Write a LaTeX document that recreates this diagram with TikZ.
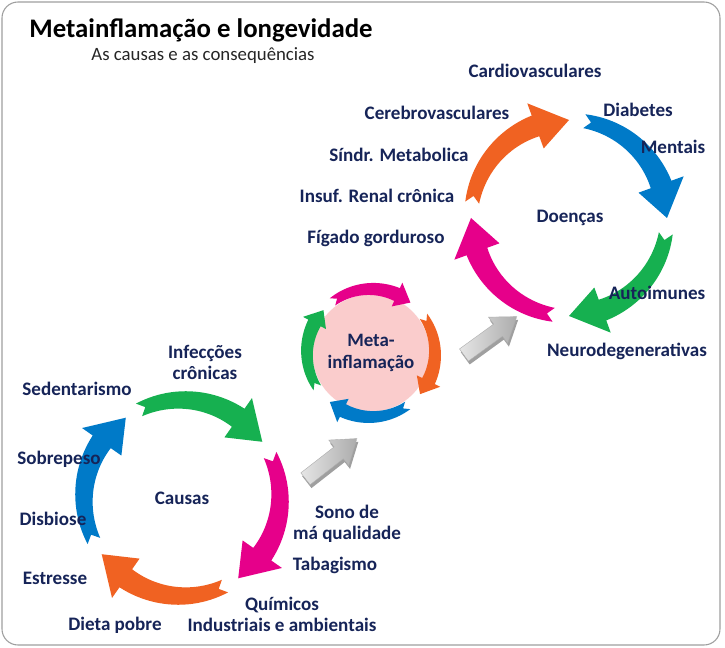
\documentclass[tikz,border=0pt]{standalone}
\usepackage{fontspec}
\setmainfont{Carlito}
\usetikzlibrary{shapes.arrows,shadows}

\definecolor{navy}{RGB}{22,36,88}
\definecolor{cgreen}{RGB}{22,176,80}
\definecolor{cmag}{RGB}{230,0,138}
\definecolor{corange}{RGB}{240,98,34}
\definecolor{cblue}{RGB}{0,122,200}
\definecolor{metapink}{RGB}{250,204,204}

% cycle settings: radius, tail half width, head side half width, head half width, span, head angle, notch
\newcommand\setcyc[7]{\def\rr{#1}\def\wt{#2}\def\wh{#3}\def\hw{#4}\def\spn{#5}\def\hang{#6}\def\ntc{#7}}
% curved clockwise arrow: #1 tip angle, #2 colour
\newcommand\cycarrow[2]{%
  \pgfmathsetmacro\ta{#1+\spn}%
  \pgfmathsetmacro\tb{#1+\hang}%
  \fill[#2] ({\ta}:{\rr+\wt})
    -- plot[domain=\ta:\tb, samples=25] (\x:{\rr+\wt+(\wh-\wt)*(\ta-\x)/(\ta-\tb)})
    -- ({\tb}:{\rr+\hw}) -- ({#1}:{\rr}) -- ({\tb}:{\rr-\hw})
    -- plot[domain=\tb:\ta, samples=25] (\x:{\rr-\wt-(\wh-\wt)*(\ta-\x)/(\ta-\tb)})
    -- ({\ta-\ntc}:{\rr}) -- cycle;
}

\tikzset{
  lbl/.style={font=\bfseries\fontsize{14.3}{15.8}\selectfont, text=navy, align=center, inner sep=0pt},
  hub/.style={font=\bfseries\fontsize{14.2}{16.5}\selectfont, text=navy, align=center, inner sep=0pt},
  grayarrow/.style={single arrow, draw=gray!65, line width=0.3pt, left color=gray!20, right color=gray!65,
    minimum height=49pt, inner xsep=0pt, inner ysep=5.5pt, single arrow head extend=6.5pt,
    single arrow tip angle=70,
    drop shadow={shadow xshift=1pt, shadow yshift=-2.5pt, fill=gray!75, opacity=1}}
}

\begin{document}
\begin{tikzpicture}[x=0.75pt, y=-0.75pt]
  \useasboundingbox (0,0) rectangle (725,648);
  \fill[white] (0,0) rectangle (725,648);
  \draw[gray!75, line width=0.8pt, rounded corners=12pt] (2,2) rectangle (720,645);

  % title
  \node[font=\bfseries\fontsize{20.1}{22}\selectfont] (title) at (201,30) {Metainflamação e longevidade};
  \node[font=\fontsize{14.1}{16}\selectfont, text=black!85] (subtitle) at (203,56) {As causas e as consequências};

  % meta-inflamacao hub
  \node[circle, fill=metapink, minimum size=88pt, hub] (meta) at (371,353) {Meta-\\inflamação};
  \begin{scope}[shift={(371,353)}, y=0.75pt]
    \setcyc{64}{4.5}{7}{13}{75}{14}{5}
    \cycarrow{52}{cmag}
    \cycarrow{-40}{corange}
    \cycarrow{-130}{cblue}
    \cycarrow{138}{cgreen}
  \end{scope}

  % causas
  \begin{scope}[shift={(182,498)}, y=0.75pt]
    \setcyc{98}{7}{11}{24}{81}{20}{4}
    \cycarrow{35}{cgreen}
    \cycarrow{-55}{cmag}
    \cycarrow{-145}{corange}
    \cycarrow{125}{cblue}
  \end{scope}
  \node[lbl] (causas) at (182,498) {Causas};

  % doencas
  \begin{scope}[shift={(569,218)}, y=0.75pt]
    \setcyc{98}{7}{11}{24}{81}{20}{4}
    \cycarrow{90}{corange}
    \cycarrow{0}{cblue}
    \cycarrow{-90}{cgreen}
    \cycarrow{180}{cmag}
  \end{scope}
  \node[lbl] (doencas) at (570,218) {Doenças};

  % gray arrows between the cycles
  \node[grayarrow, rotate=38] (g1) at (327,462) {};
  \node[grayarrow, rotate=36] (g2) at (486,339) {};

  % causes
  \node[lbl] (infec) at (205,362) {Infecções\\crônicas};
  \node[lbl] (sedent) at (77,389) {Sedentarismo};
  \node[lbl] (sobrep) at (59,459) {Sobrepeso};
  \node[lbl] (disb) at (53,519) {Disbiose};
  \node[lbl] (estr) at (55,578) {Estresse};
  \node[lbl] (dieta) at (115,625) {Dieta pobre};
  \node[lbl] (quim) at (282,614) {Químicos\\Industriais e ambientais};
  \node[lbl] (tabag) at (335,565) {Tabagismo};
  \node[lbl] (sono) at (347,524) {Sono de\\má qualidade};

  % diseases
  \node[lbl] (cardio) at (535,71) {Cardiovasculares};
  \node[lbl] (cerebro) at (437,113) {Cerebrovasculares};
  \node[lbl] (sindr) at (399,155) {Síndr. Metabolica};
  \node[lbl] (renal) at (377,196) {Insuf. Renal crônica};
  \node[lbl] (figado) at (376,238) {Fígado gorduroso};
  \node[lbl] (diab) at (638,110) {Diabetes};
  \node[lbl] (ment) at (673,147) {Mentais};
  \node[lbl] (autoim) at (657,293) {Autoimunes};
  \node[lbl] (neuro) at (627,351) {Neurodegenerativas};
\end{tikzpicture}
\end{document}
